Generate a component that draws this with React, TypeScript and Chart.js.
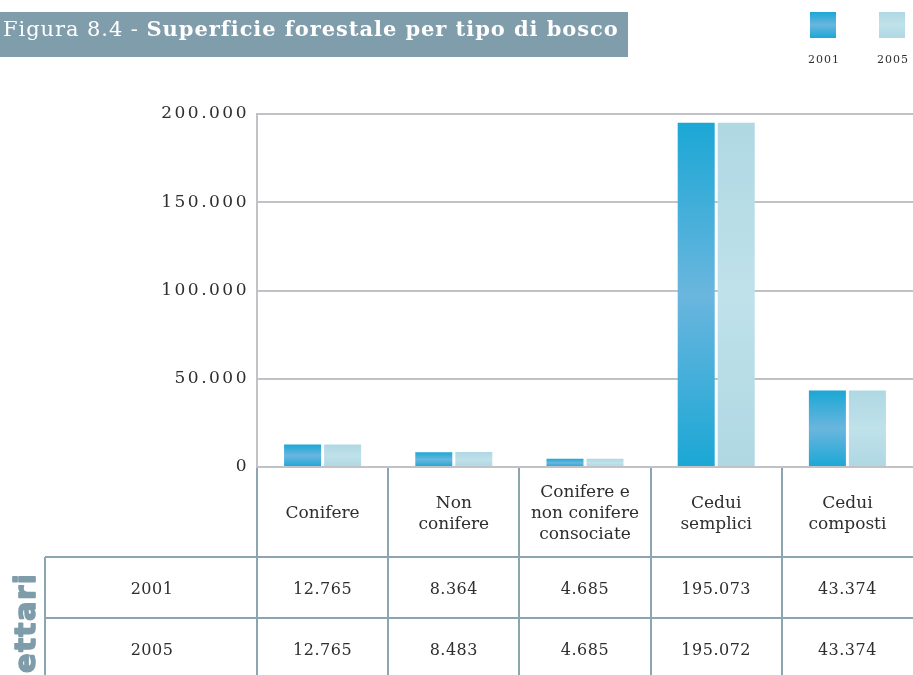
import React, { useEffect, useRef } from 'react';
import { Chart, registerables } from 'chart.js';

Chart.register(...registerables);

// ---- data ----
const categories: string[][] = [
  ['Conifere'],
  ['Non', 'conifere'],
  ['Conifere e', 'non conifere', 'consociate'],
  ['Cedui', 'semplici'],
  ['Cedui', 'composti'],
];
const seriesLabels = ['2001', '2005'];
const values2001 = [12765, 8364, 4685, 195073, 43374];
const values2005 = [12765, 8483, 4685, 195072, 43374];
const yTicks = [0, 50000, 100000, 150000, 200000];
const titlePrefix = 'Figura 8.4 - ';
const titleMain = 'Superficie forestale per tipo di bosco';
const unitLabel = 'ettari';

// ---- styles ----
const W = 913;
const H = 675;
const grad2001 = ['#1ba7d5', '#6ab6de', '#1ba7d5'];
const grad2005 = ['#afd8e3', '#bfe1ea', '#afd8e3'];
const gridColor = '#c2c2c6';
const tableColor = '#8da4b1';
const titleBg = '#809dab';
const textColor = '#2e2e2e';
const serif = '"DejaVu Serif", "Liberation Serif", serif';

const fmt = (v: number) => String(v).replace(/\B(?=(\d{3})+(?!\d))/g, '.');

function barGradient(stops: string[]) {
  return (c: any) => {
    const chart = c.chart;
    const y = chart.scales && chart.scales.y;
    if (c.type !== 'data' || !y || !chart.chartArea) return stops[1];
    const v = typeof c.raw === 'number' ? c.raw : 0;
    const top = y.getPixelForValue(v);
    const bottom = y.getPixelForValue(0);
    if (!isFinite(top) || !isFinite(bottom) || Math.abs(bottom - top) < 1) return stops[1];
    const g = chart.ctx.createLinearGradient(0, top, 0, bottom);
    g.addColorStop(0, stops[0]);
    g.addColorStop(0.5, stops[1]);
    g.addColorStop(1, stops[2]);
    return g;
  };
}

function squareGradient(ctx: CanvasRenderingContext2D, y0: number, h: number, stops: string[]) {
  const g = ctx.createLinearGradient(0, y0, 0, y0 + h);
  g.addColorStop(0, stops[0]);
  g.addColorStop(0.5, stops[1]);
  g.addColorStop(1, stops[2]);
  return g;
}

const decorPlugin = {
  id: 'decor',
  beforeDraw(chart: any) {
    (chart.ctx as any).letterSpacing = '2.5px';
  },
  beforeDatasetsDraw(chart: any) {
    (chart.ctx as any).letterSpacing = '0px';
  },
  afterDraw(chart: any) {
    const ctx: CanvasRenderingContext2D = chart.ctx;
    const area = chart.chartArea;
    const xs = chart.scales.x;
    const n = chart.data.labels.length;
    const colW = (area.right - area.left) / n;
    const headerBottom = area.bottom + 90;
    const row1Bottom = headerBottom + 61;
    const tableLeft = 45;

    ctx.save();
    (ctx as any).letterSpacing = '0px';

    // title bar
    ctx.fillStyle = titleBg;
    ctx.fillRect(0, 12, 628, 45);
    const size = 21;
    const chars = titlePrefix.length + titleMain.length;
    ctx.font = `normal ${size}px ${serif}`;
    let w1 = ctx.measureText(titlePrefix).width;
    ctx.font = `bold ${size}px ${serif}`;
    const w2 = ctx.measureText(titleMain).width;
    const ls = Math.max(0, Math.min(2, (614 - (w1 + w2)) / chars));
    (ctx as any).letterSpacing = `${ls}px`;
    ctx.font = `normal ${size}px ${serif}`;
    w1 = ctx.measureText(titlePrefix).width;
    ctx.fillStyle = '#ffffff';
    ctx.textAlign = 'left';
    ctx.textBaseline = 'alphabetic';
    ctx.fillText(titlePrefix, 3, 36);
    ctx.font = `bold ${size}px ${serif}`;
    ctx.fillText(titleMain, 3 + w1, 36);
    (ctx as any).letterSpacing = '0px';

    // legend
    const legendX = [810, 879];
    const stopsList = [grad2001, grad2005];
    chart.data.datasets.forEach((ds: any, i: number) => {
      ctx.fillStyle = squareGradient(ctx, 12, 26, stopsList[i]);
      ctx.fillRect(legendX[i], 12, 26, 26);
      ctx.fillStyle = textColor;
      ctx.font = `normal 11px ${serif}`;
      (ctx as any).letterSpacing = '1px';
      ctx.textAlign = 'center';
      ctx.textBaseline = 'middle';
      ctx.fillText(ds.label, legendX[i] + 14, 60);
      (ctx as any).letterSpacing = '0px';
    });

    // table lines
    ctx.strokeStyle = tableColor;
    ctx.lineWidth = 2;
    ctx.beginPath();
    for (let i = 0; i < n; i++) {
      const xb = Math.round(area.left + i * colW);
      ctx.moveTo(xb, area.bottom + 1);
      ctx.lineTo(xb, H);
    }
    ctx.moveTo(tableLeft, headerBottom);
    ctx.lineTo(tableLeft, H);
    ctx.moveTo(tableLeft, headerBottom);
    ctx.lineTo(W, headerBottom);
    ctx.moveTo(tableLeft, row1Bottom);
    ctx.lineTo(W, row1Bottom);
    ctx.stroke();

    // category labels
    ctx.fillStyle = textColor;
    ctx.textAlign = 'center';
    ctx.textBaseline = 'middle';
    ctx.font = `normal 17px ${serif}`;
    chart.data.labels.forEach((lab: string[], i: number) => {
      const cx = xs.getPixelForValue(i);
      const lines = Array.isArray(lab) ? lab : [lab];
      const lh = 21;
      const cy = area.bottom + 47;
      lines.forEach((t, k) => {
        ctx.fillText(t, cx, cy - ((lines.length - 1) * lh) / 2 + k * lh);
      });
    });

    // data rows
    ctx.font = `normal 16px ${serif}`;
    (ctx as any).letterSpacing = '0.5px';
    const rowY = [headerBottom + 33, row1Bottom + 33];
    chart.data.datasets.forEach((ds: any, r: number) => {
      ctx.fillText(ds.label, (tableLeft + area.left) / 2 + 1, rowY[r]);
      ds.data.forEach((v: number, i: number) => {
        ctx.fillText(fmt(v), xs.getPixelForValue(i), rowY[r]);
      });
    });

    // unit label
    ctx.save();
    ctx.translate(35, 673);
    ctx.rotate(-Math.PI / 2);
    ctx.fillStyle = '#7f9caa';
    ctx.strokeStyle = '#7f9caa';
    ctx.lineWidth = 1.6;
    ctx.lineJoin = 'round';
    ctx.font = `bold 29px "DejaVu Sans", sans-serif`;
    (ctx as any).letterSpacing = '1.5px';
    ctx.textAlign = 'left';
    ctx.textBaseline = 'alphabetic';
    ctx.fillText(unitLabel, 0, 0);
    ctx.strokeText(unitLabel, 0, 0);
    ctx.restore();

    ctx.restore();
  },
};

export default function App() {
  const ref = useRef<HTMLCanvasElement | null>(null);

  useEffect(() => {
    if (!ref.current) return;
    const chart = new Chart(ref.current, {
      type: 'bar',
      data: {
        labels: categories,
        datasets: [
          { label: seriesLabels[0], data: values2001, backgroundColor: barGradient(grad2001), borderWidth: 0 },
          { label: seriesLabels[1], data: values2005, backgroundColor: barGradient(grad2005), borderWidth: 0 },
        ],
      },
      options: {
        responsive: false,
        animation: false,
        layout: { padding: { top: 114, right: 0, bottom: 208, left: 0 } },
        plugins: { legend: { display: false }, tooltip: { enabled: false } },
        datasets: { bar: { categoryPercentage: 0.61, barPercentage: 0.925 } },
        scales: {
          x: { display: false },
          y: {
            min: 0,
            max: 200000,
            afterBuildTicks: (s: any) => {
              s.ticks = yTicks.map((v) => ({ value: v }));
            },
            afterFit: (s: any) => {
              s.width = 257;
            },
            grid: { color: gridColor, lineWidth: 2, drawTicks: false },
            border: { color: gridColor, width: 2 },
            ticks: {
              padding: 8,
              color: textColor,
              font: { family: serif, size: 17 },
              callback: (v: any) => fmt(Number(v)),
            },
          },
        },
      },
      plugins: [decorPlugin],
    } as any);
    return () => chart.destroy();
  }, []);

  return (
    <div style={{ position: 'absolute', left: 0, top: 0, width: W, height: H, background: '#ffffff' }}>
      <canvas ref={ref} width={W} height={H} style={{ display: 'block', width: W, height: H }} />
    </div>
  );
}
